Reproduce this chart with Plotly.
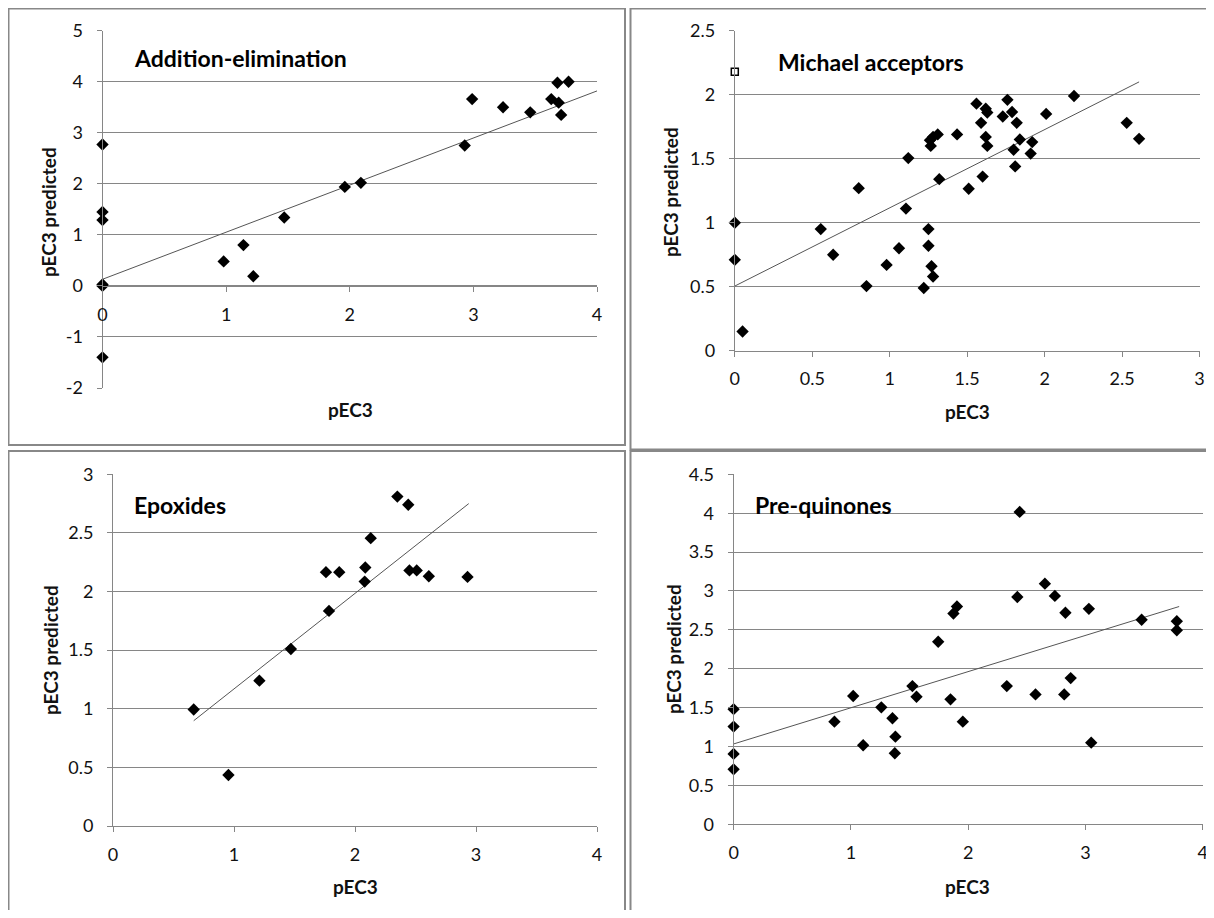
import plotly.graph_objects as go

# page is 1214x918; browser body keeps its default 8px margin (left/top offset of the figure)
PAGE_W, PAGE_H = 1214, 918
OFF = 8
W, H = PAGE_W - OFF, PAGE_H - 2 * OFF

# ---------------- data ----------------
# Addition-elimination
ae_x = [0, 0, 0, 0, 0, 0, 0.98, 1.14, 1.22, 1.47, 1.96, 2.09, 2.93, 2.99, 3.24, 3.46, 3.63, 3.68, 3.77, 3.69, 3.71]
ae_y = [2.77, 1.45, 1.29, 0.03, 0.0, -1.40, 0.48, 0.80, 0.19, 1.34, 1.94, 2.02, 2.75, 3.66, 3.50, 3.40, 3.66, 3.98, 4.00, 3.59, 3.35]
ae_fit_x = [0, 4]
ae_fit_y = [0.13, 3.82]

# Michael acceptors
ma_x = [0, 0, 0.05, 0.555, 0.635, 0.80, 0.85, 0.98, 1.06, 1.105, 1.12, 1.22, 1.25, 1.25, 1.27, 1.28,
        1.26, 1.265, 1.28, 1.31, 1.32, 1.435, 1.51, 1.56, 1.59, 1.60, 1.62, 1.63, 1.62, 1.63, 1.73,
        1.76, 1.79, 1.80, 1.82, 1.81, 1.84, 1.92, 1.91, 2.01, 2.19, 2.53, 2.61]
ma_y = [1.00, 0.71, 0.15, 0.95, 0.75, 1.27, 0.505, 0.67, 0.80, 1.11, 1.505, 0.49, 0.95, 0.82, 0.66, 0.58,
        1.645, 1.60, 1.67, 1.69, 1.34, 1.69, 1.265, 1.93, 1.78, 1.36, 1.89, 1.86, 1.67, 1.60, 1.83,
        1.96, 1.865, 1.57, 1.78, 1.44, 1.65, 1.63, 1.54, 1.85, 1.99, 1.78, 1.655]
ma_out_x = [0]
ma_out_y = [2.18]
ma_fit_x = [0, 2.61]
ma_fit_y = [0.505, 2.10]

# Epoxides
ep_x = [0.667, 0.954, 1.21, 1.47, 1.76, 1.87, 1.785, 2.08, 2.085, 2.13, 2.35, 2.44, 2.45, 2.51, 2.61, 2.93]
ep_y = [0.994, 0.435, 1.24, 1.51, 2.165, 2.165, 1.835, 2.085, 2.205, 2.455, 2.81, 2.74, 2.18, 2.18, 2.13, 2.125]
ep_fit_x = [0.667, 2.94]
ep_fit_y = [0.898, 2.75]

# Pre-quinones
pq_x = [0, 0, 0, 0, 0.86, 1.02, 1.105, 1.26, 1.355, 1.38, 1.375, 1.525, 1.56, 1.745, 1.85, 1.875,
        1.905, 1.955, 2.33, 2.42, 2.44, 2.575, 2.655, 2.74, 2.83, 2.82, 2.875, 3.03, 3.05, 3.48, 3.78, 3.78]
pq_y = [1.48, 1.256, 0.905, 0.707, 1.32, 1.65, 1.017, 1.504, 1.363, 1.127, 0.913, 1.777, 1.64, 2.347,
        1.607, 2.71, 2.80, 1.32, 1.777, 2.923, 4.016, 1.67, 3.094, 2.936, 2.72, 1.67, 1.88, 2.77, 1.05,
        2.63, 2.61, 2.495]
pq_fit_x = [0, 3.80]
pq_fit_y = [1.033, 2.80]

titles = ["Addition-elimination", "Michael acceptors", "Epoxides", "Pre-quinones"]
x_title = "pEC3"
y_title = "pEC3 predicted"

# tick values / labels
ae_yticks = [-2, -1, 0, 1, 2, 3, 4, 5]
ae_yticklabels = ["-2", "-1", "0", "1", "2", "3", "4", "5"]

# ---------------- styling ----------------
FONT = "Lato"
GRID = "#868686"
TXT = "#111111"
BORDER = "#888888"
FIT = "#555555"


def fx(px):
    return (px - OFF) / W


def fy(py):
    return 1 - (py - OFF) / H


# plot areas in page pixels: (x_left, x_right, y_top, y_bottom)
areas = [
    (102.5, 597.0, 30.7, 388.0),
    (734.8, 1199.5, 30.7, 350.7),
    (113.0, 597.0, 474.3, 826.0),
    (733.6, 1202.6, 474.3, 824.3),
]
xranges = [[0, 4], [0, 3], [0, 4], [0, 4]]
yranges = [[-2, 5], [0, 2.5], [0, 3], [0, 4.5]]
xd = [1, 0.5, 1, 1]
yd = [1, 0.5, 0.5, 0.5]

fig = go.Figure()

series = [(ae_x, ae_y, ae_fit_x, ae_fit_y), (ma_x, ma_y, ma_fit_x, ma_fit_y),
          (ep_x, ep_y, ep_fit_x, ep_fit_y), (pq_x, pq_y, pq_fit_x, pq_fit_y)]

for i, (sx, sy, fxv, fyv) in enumerate(series):
    k = "" if i == 0 else str(i + 1)
    fig.add_trace(go.Scatter(x=fxv, y=fyv, mode="lines", line=dict(color=FIT, width=1),
                             xaxis="x" + k, yaxis="y" + k, showlegend=False, hoverinfo="skip"))
    fig.add_trace(go.Scatter(x=sx, y=sy, mode="markers", cliponaxis=False,
                             marker=dict(symbol="diamond", size=9.5, color="black", line=dict(width=0)),
                             xaxis="x" + k, yaxis="y" + k, showlegend=False))
    if i == 1:
        fig.add_trace(go.Scatter(x=ma_out_x, y=ma_out_y, mode="markers", cliponaxis=False,
                                 marker=dict(symbol="square-open", size=7, color="black",
                                             line=dict(width=1.5, color="black")),
                                 xaxis="x2", yaxis="y2", showlegend=False))

layout = dict(template="none", width=W, height=H, autosize=False,
              margin=dict(l=0, r=0, t=0, b=0, pad=0, autoexpand=False),
              paper_bgcolor="white", plot_bgcolor="white",
              font=dict(family=FONT, size=18, color=TXT), showlegend=False)

for i in range(4):
    k = "" if i == 0 else str(i + 1)
    xl, xr, yt, yb = areas[i]
    ydom = [fy(yb), fy(yt)]
    y0, y1 = yranges[i]
    xa = dict(domain=[fx(xl), fx(xr)], range=xranges[i], dtick=xd[i], tick0=0, automargin=False,
              showgrid=False, zeroline=False, showline=True, linecolor=GRID, linewidth=1,
              ticks="outside", ticklen=5, tickcolor=GRID, tickwidth=1,
              tickfont=dict(family=FONT, size=18, color=TXT), ticklabelstandoff=7,
              ticklabeloverflow="allow", fixedrange=True)
    if y0 < 0:
        # horizontal axis crosses at y = 0
        pos = ydom[0] + (0 - y0) / (y1 - y0) * (ydom[1] - ydom[0])
        xa.update(anchor="free", position=pos)
    else:
        xa.update(anchor="y" + k)
    ya = dict(domain=ydom, range=yranges[i], dtick=yd[i], tick0=0, automargin=False,
              showgrid=True, gridcolor=GRID, gridwidth=1, zeroline=False,
              showline=True, linecolor=GRID, linewidth=1,
              ticks="outside", ticklen=5, tickcolor=GRID, tickwidth=1,
              tickfont=dict(family=FONT, size=18, color=TXT), ticklabelstandoff=10,
              ticklabeloverflow="allow", anchor="x" + k, fixedrange=True)
    if i == 0:
        ya.update(tickmode="array", tickvals=ae_yticks, ticktext=ae_yticklabels)
    layout["xaxis" + k] = xa
    layout["yaxis" + k] = ya

fig.update_layout(**layout)

# panel titles
title_pos = [(131.7, 58.0), (776.0, 61.5), (131.6, 504.5), (752.6, 504.5)]
for t, (px, py) in zip(titles, title_pos):
    fig.add_annotation(text="<b>" + t + "</b>", x=fx(px), y=fy(py), xref="paper", yref="paper",
                       xanchor="left", yanchor="middle", showarrow=False,
                       font=dict(family=FONT, size=23, color="black"))

# axis titles
xt_pos = [(350, 409.5), (967.7, 411.7), (355, 886.5), (967.7, 886.5)]
yt_pos = [(48, 212), (670, 192), (50, 650), (673, 649)]
for (px, py) in xt_pos:
    fig.add_annotation(text="<b>" + x_title + "</b>", x=fx(px), y=fy(py), xref="paper", yref="paper",
                       xanchor="center", yanchor="middle", showarrow=False,
                       font=dict(family=FONT, size=19, color=TXT))
for (px, py) in yt_pos:
    fig.add_annotation(text="<b>" + y_title + "</b>", x=fx(px), y=fy(py), xref="paper", yref="paper",
                       xanchor="center", yanchor="middle", showarrow=False, textangle=-90,
                       font=dict(family=FONT, size=19, color=TXT))

# panel frames (page pixels)
frames = [(8.5, 625, 8.5, 445), (630.5, 1240, 8.5, 449.5), (8.5, 625, 451, 940), (630.5, 1240, 451, 940)]
for (x0, x1, y0, y1) in frames:
    fig.add_shape(type="rect", xref="paper", yref="paper", x0=fx(x0), x1=fx(x1), y0=fy(y1), y1=fy(y0),
                  line=dict(color=BORDER, width=2), fillcolor="rgba(0,0,0,0)", layer="above")

fig.write_html("out.html", config={"displayModeBar": False})
